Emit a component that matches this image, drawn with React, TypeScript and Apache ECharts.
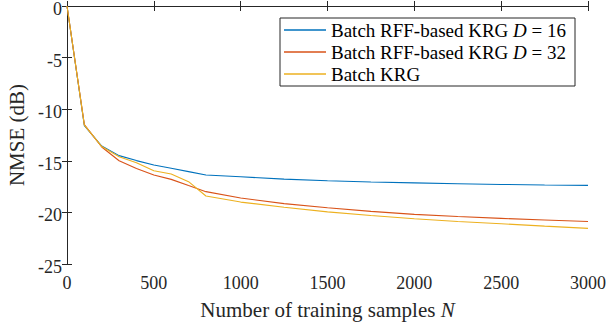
import React, { useEffect, useRef } from "react";
import * as echarts from "echarts";

const xValues = [0, 100, 200, 300, 400, 500, 600, 700, 800, 1000, 1250, 1500, 1750, 2000, 2250, 2500, 2750, 3000];
const rff16 = [0, -11.6, -13.57, -14.5, -14.98, -15.41, -15.73, -16.05, -16.38, -16.55, -16.78, -16.93, -17.05, -17.14, -17.22, -17.29, -17.34, -17.38];
const rff32 = [0, -11.5, -13.66, -15.0, -15.75, -16.38, -16.8, -17.4, -17.99, -18.6, -19.15, -19.55, -19.9, -20.19, -20.4, -20.58, -20.74, -20.88];
const krg = [0, -11.55, -13.62, -14.6, -15.18, -15.96, -16.28, -17.02, -18.41, -19.0, -19.5, -19.95, -20.3, -20.62, -20.88, -21.1, -21.33, -21.55];

const seriesNames = ["Batch RFF-based KRG {i|D} = 16", "Batch RFF-based KRG {i|D} = 32", "Batch KRG"];
const colors = ["#0072BD", "#D95319", "#EDB120"];
const xTicks = { min: 0, max: 3000, interval: 500 };
const yTicks = { min: -25, max: 0, interval: 5 };
const xTitle = "Number of training samples {i|N}";
const yTitle = "NMSE (dB)";

const FONT = "Liberation Serif";
const AX = "#262626";

export default function App() {
  const ref = useRef<HTMLDivElement>(null);
  useEffect(() => {
    if (!ref.current) return;
    const chart = echarts.init(ref.current, undefined, { renderer: "svg" });
    const pair = (ys: number[]) => xValues.map((x, i) => [x, ys[i]]);
    const allSeries = [rff16, rff32, krg];
    const axisCommon = {
      axisLine: { show: true, lineStyle: { color: AX, width: 1 } },
      axisTick: { show: true, inside: true, length: 5, lineStyle: { color: AX, width: 1 } },
      splitLine: { show: false },
    };
    chart.setOption({
      animation: false,
      backgroundColor: "#ffffff",
      textStyle: { fontFamily: FONT },
      grid: { left: 67, right: 20, top: 6, bottom: 62, containLabel: false, outerBoundsMode: "none" },
      legend: {
        show: true,
        orient: "vertical",
        left: 280,
        top: 18,
        padding: [1, 3, 1, 4],
        itemGap: 0,
        itemWidth: 42,
        itemHeight: 1.3,
        icon: "rect",
        borderColor: AX,
        borderWidth: 1,
        borderRadius: 0,
        backgroundColor: "#ffffff",
        data: seriesNames,
        textStyle: {
          fontFamily: FONT,
          fontSize: 19,
          color: "#000",
          lineHeight: 22,
          width: 241,
          rich: {
            i: { fontFamily: FONT, fontSize: 19, fontStyle: "italic", color: "#000", lineHeight: 22 },
          },
        },
      },
      xAxis: [
        {
          type: "value",
          ...xTicks,
          position: "bottom",
          ...axisCommon,
          axisLabel: {
            show: true,
            margin: 10,
            fontFamily: FONT,
            fontSize: 18,
            color: AX,
            formatter: (v: number) => String(v),
          },
          name: xTitle,
          nameLocation: "middle",
          nameGap: 35,
          nameTextStyle: {
            fontFamily: FONT,
            fontSize: 21,
            color: AX,
            rich: { i: { fontFamily: FONT, fontSize: 21, fontStyle: "italic", color: AX } },
          },
        },
        {
          type: "value",
          ...xTicks,
          position: "top",
          ...axisCommon,
          axisLabel: { show: false },
        },
      ],
      yAxis: [
        {
          type: "value",
          ...yTicks,
          position: "left",
          ...axisCommon,
          axisLabel: {
            show: true,
            margin: 5,
            fontFamily: FONT,
            fontSize: 18,
            color: AX,
            verticalAlign: "top",
            lineHeight: 6,
            formatter: (v: number) => String(v),
          },
          name: yTitle,
          nameLocation: "middle",
          nameGap: 40,
          nameTextStyle: { fontFamily: FONT, fontSize: 21, color: AX },
        },
        {
          type: "value",
          ...yTicks,
          position: "right",
          ...axisCommon,
          axisLabel: { show: false },
        },
      ],
      series: allSeries.map((ys, i) => ({
        name: seriesNames[i],
        type: "line",
        xAxisIndex: 0,
        yAxisIndex: 0,
        data: pair(ys),
        showSymbol: false,
        symbol: "none",
        lineStyle: { color: colors[i], width: 1.1 },
        itemStyle: { color: colors[i] },
        color: colors[i],
      })),
    });
    return () => chart.dispose();
  }, []);
  return <div ref={ref} style={{ position: "fixed", left: 0, top: 0, width: 608, height: 326 }} />;
}
